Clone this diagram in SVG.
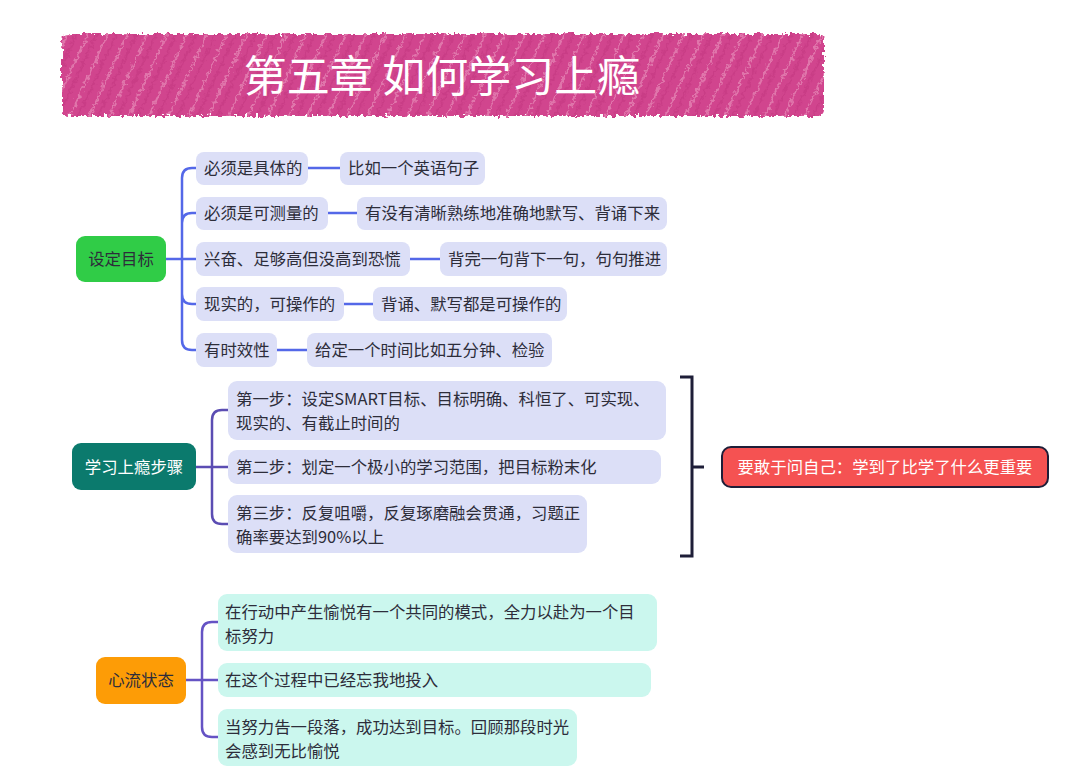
<svg xmlns="http://www.w3.org/2000/svg" width="1080" height="783" viewBox="0 0 1080 783">
<style>
text{font-family:"Noto Sans CJK SC","Noto Sans",sans-serif;font-size:16.4px;fill:#2d2d3a}
.lav{fill:#dcdff7}
.mint{fill:#cbf7ee}
.c1{fill:none;stroke:#5468e8;stroke-width:2.5}
.c2{fill:none;stroke:#5b4db3;stroke-width:2.5}
.c3{fill:none;stroke:#6553c4;stroke-width:2.5}
.w{fill:#ffffff}
</style>
<defs>
<pattern id="hatch" width="18" height="18" patternUnits="userSpaceOnUse" patternTransform="rotate(25)">
<rect width="18" height="18" fill="#d1458e"/>
<line x1="4" y1="0" x2="4" y2="18" stroke="#f0a6c9" stroke-width="1"/>
<line x1="12" y1="0" x2="12" y2="18" stroke="#c93d86" stroke-width="2.5"/>
</pattern>
<filter id="rough" x="-5%" y="-20%" width="110%" height="140%">
<feTurbulence type="fractalNoise" baseFrequency="0.25" numOctaves="2" seed="3"/>
<feDisplacementMap in="SourceGraphic" scale="8" xChannelSelector="R" yChannelSelector="G"/>
</filter>
</defs>
<rect width="1080" height="783" fill="#ffffff"/>
<g id="title">
<rect x="62" y="34" width="762" height="82" rx="6" fill="url(#hatch)" filter="url(#rough)"/>
<text x="442" y="92" text-anchor="middle" class="w" style="font-size:43px;fill:#ffffff">第五章 如何学习上瘾</text>
</g>
<g id="connectors">
<path class="c1" d="M166,259 H196 M182,259 V178 Q182,168 192,168 H196 M182,259 V223 Q182,213 192,213 H196 M182,259 V294 Q182,304 192,304 H196 M182,259 V340 Q182,350 192,350 H196"/>
<path class="c1" d="M308,168 H340 M328,213 H357 M410,259 H440 M344,304 H373 M277,350 H307"/>
<path class="c2" d="M196,467 H228 M212,467 V420 Q212,410 222,410 H228 M212,467 V514 Q212,524 222,524 H228"/>
<path d="M680,377 H692 V556 H680 M692,467 H704" fill="none" stroke="#1e1e38" stroke-width="3"/>
<path class="c3" d="M186,680 H218 M202,680 V632 Q202,622 212,622 H218 M202,680 V727 Q202,737 212,737 H218"/>
</g>
<g id="n-goal">
<rect x="76" y="236" width="90" height="46" rx="9" fill="#30cc47"/>
<text x="121" y="265" text-anchor="middle">设定目标</text>
</g>
<g id="n-g1"><rect class="lav" x="196" y="152" width="112" height="33" rx="8"/><text x="204" y="174">必须是具体的</text></g>
<g id="n-g1a"><rect class="lav" x="340" y="152" width="145" height="33" rx="8"/><text x="348" y="174">比如一个英语句子</text></g>
<g id="n-g2"><rect class="lav" x="196" y="197" width="132" height="33" rx="8"/><text x="204" y="219">必须是可测量的</text></g>
<g id="n-g2a"><rect class="lav" x="357" y="197" width="310" height="33" rx="8"/><text x="365" y="219">有没有清晰熟练地准确地默写、背诵下来</text></g>
<g id="n-g3"><rect class="lav" x="196" y="242" width="214" height="34" rx="8"/><text x="204" y="265">兴奋、足够高但没高到恐慌</text></g>
<g id="n-g3a"><rect class="lav" x="440" y="242" width="227" height="34" rx="8"/><text x="448" y="265">背完一句背下一句，句句推进</text></g>
<g id="n-g4"><rect class="lav" x="196" y="287" width="148" height="34" rx="8"/><text x="204" y="310">现实的，可操作的</text></g>
<g id="n-g4a"><rect class="lav" x="373" y="287" width="194" height="34" rx="8"/><text x="381" y="310">背诵、默写都是可操作的</text></g>
<g id="n-g5"><rect class="lav" x="196" y="333" width="81" height="34" rx="8"/><text x="204" y="356">有时效性</text></g>
<g id="n-g5a"><rect class="lav" x="307" y="333" width="245" height="34" rx="8"/><text x="315" y="356">给定一个时间比如五分钟、检验</text></g>
<g id="n-steps">
<rect x="72" y="443" width="124" height="47" rx="9" fill="#0b7a6d"/>
<text x="134" y="473" text-anchor="middle" class="w" style="fill:#ffffff">学习上瘾步骤</text>
</g>
<g id="n-s1"><rect class="lav" x="228" y="381" width="438" height="59" rx="9"/><text x="236" y="405">第一步：设定SMART目标、目标明确、科恒了、可实现、</text><text x="236" y="429">现实的、有截止时间的</text></g>
<g id="n-s2"><rect class="lav" x="228" y="450" width="433" height="34" rx="9"/><text x="236" y="473">第二步：划定一个极小的学习范围，把目标粉末化</text></g>
<g id="n-s3"><rect class="lav" x="228" y="495" width="359" height="58" rx="9"/><text x="236" y="519">第三步：反复咀嚼，反复琢磨融会贯通，习题正</text><text x="236" y="543">确率要达到90%以上</text></g>
<g id="n-ask">
<rect x="722" y="447" width="326" height="40" rx="9" fill="#f55252" stroke="#1e1e38" stroke-width="2"/>
<text x="885" y="473" text-anchor="middle" style="fill:#ffffff">要敢于问自己：学到了比学了什么更重要</text>
</g>
<g id="n-flow">
<rect x="96" y="657" width="90" height="47" rx="9" fill="#fd9c06"/>
<text x="141" y="686" text-anchor="middle">心流状态</text>
</g>
<g id="n-f1"><rect class="mint" x="218" y="594" width="439" height="57" rx="9"/><text x="225" y="618">在行动中产生愉悦有一个共同的模式，全力以赴为一个目</text><text x="225" y="642">标努力</text></g>
<g id="n-f2"><rect class="mint" x="218" y="663" width="433" height="34" rx="9"/><text x="225" y="686">在这个过程中已经忘我地投入</text></g>
<g id="n-f3"><rect class="mint" x="218" y="709" width="359" height="57" rx="9"/><text x="225" y="733">当努力告一段落，成功达到目标。回顾那段时光</text><text x="225" y="757">会感到无比愉悦</text></g>
</svg>
